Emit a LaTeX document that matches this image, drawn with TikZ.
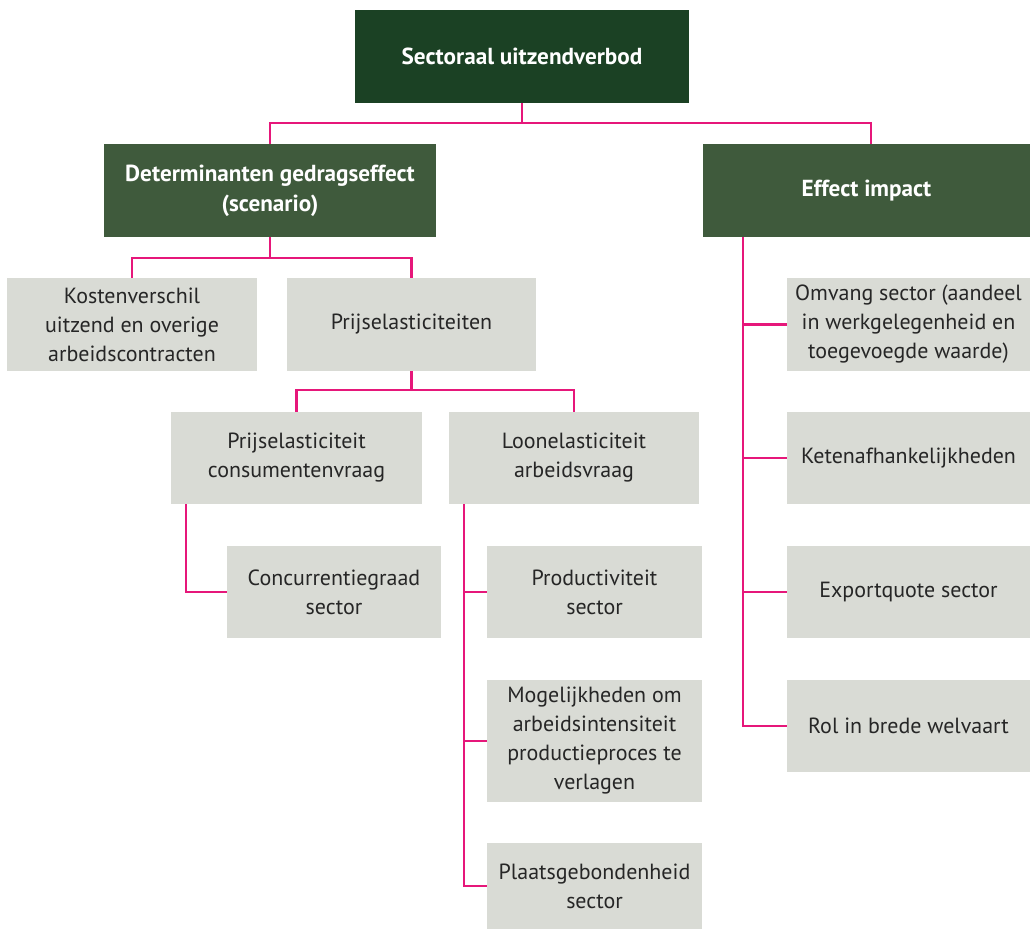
\documentclass[tikz,border=0pt]{standalone}
\usepackage{fontspec}
\setmainfont{PT Sans}
\usetikzlibrary{positioning,calc}
\definecolor{topgreen}{HTML}{1B4124}
\definecolor{midgreen}{HTML}{3F5A3C}
\definecolor{boxgray}{HTML}{D9DBD5}
\definecolor{linkpink}{HTML}{E6177A}
\tikzset{
basebox/.style={inner sep=2pt,align=center,font=\fontsize{12.5}{16.5}\selectfont},
headbox/.style={basebox,fill=topgreen,text=white,font=\fontsize{13.2}{17}\selectfont\bfseries},
subhead/.style={basebox,fill=midgreen,text=white,font=\fontsize{13.2}{17}\selectfont\bfseries},
item/.style={basebox,fill=boxgray,text=black!85},
link/.style={draw=linkpink,line width=1.3pt}
}
\begin{document}
\begin{tikzpicture}[x=0.02cm,y=-0.02cm]
\useasboundingbox (0,0) rectangle (1030,929);
% top level
\node[headbox,minimum width=6.68cm,minimum height=1.86cm] (top) at (522,56.5) {Sectoraal uitzendverbod};
\node[subhead,minimum width=6.64cm,minimum height=1.86cm] (det) at (270,190.5) {Determinanten gedragseffect\\(scenario)};
\node[subhead,minimum width=6.54cm,minimum height=1.86cm] (eff) at (866.5,190.5) {Effect impact};
% left branch
\node[item,minimum width=5cm,minimum height=1.86cm] (kost) at (132,324.5) {Kostenverschil\\uitzend en overige\\arbeidscontracten};
\node[item,minimum width=4.98cm,minimum height=1.86cm] (prijs) at (411.5,324.5) {Prijselasticiteiten};
\node[item,minimum width=5.02cm,minimum height=1.84cm] (pcons) at (296.5,458) {Prijselasticiteit\\consumentenvraag};
\node[item,minimum width=5cm,minimum height=1.84cm] (loon) at (574,458) {Loonelasticiteit\\arbeidsvraag};
\node[item,minimum width=4.28cm,minimum height=1.84cm] (conc) at (334,592) {Concurrentiegraad\\sector};
\node[item,minimum width=4.3cm,minimum height=1.84cm] (prod) at (594.5,592) {Productiviteit\\sector};
\node[item,minimum width=4.3cm,minimum height=2.44cm] (mog) at (594.5,741) {Mogelijkheden om\\arbeidsintensiteit\\productieproces te\\verlagen};
\node[item,minimum width=4.3cm,minimum height=1.72cm] (plaats) at (594.5,886) {Plaatsgebondenheid\\sector};
% right branch
\node[item,minimum width=4.86cm,minimum height=1.86cm] (omv) at (908.5,324.5) {Omvang sector (aandeel\\in werkgelegenheid en\\toegevoegde waarde)};
\node[item,minimum width=4.86cm,minimum height=1.84cm] (keten) at (908.5,458) {Ketenafhankelijkheden};
\node[item,minimum width=4.86cm,minimum height=1.84cm] (exp) at (908.5,592) {Exportquote sector};
\node[item,minimum width=4.86cm,minimum height=1.84cm] (rol) at (908.5,726) {Rol in brede welvaart};
% connectors
\draw[link] (top.south) -- ++(0,20) -| (det.north);
\draw[link] (top.south) -- ++(0,20) -| ($(eff.north)+(4.5,0)$);
\draw[link] (det.south) -- ++(0,21) -| (kost.north);
\draw[link] (det.south) -- ++(0,21) -| (prijs.north);
\draw[link] (prijs.south) -- ++(0,19) -| (pcons.north);
\draw[link] (prijs.south) -- ++(0,19) -| (loon.north);
\draw[link] (pcons.south west) ++(15,0) |- (conc.west);
\draw[link] (loon.south west) ++(15,0) coordinate (lb) |- (plaats.west);
\foreach \n in {prod,mog}
  \draw[link] (lb |- \n.west) -- (\n.west);
\draw[link] (eff.south west) ++(40,0) coordinate (eb) |- (rol.west);
\foreach \n in {omv,keten,exp}
  \draw[link] (eb |- \n.west) -- (\n.west);
\end{tikzpicture}
\end{document}
